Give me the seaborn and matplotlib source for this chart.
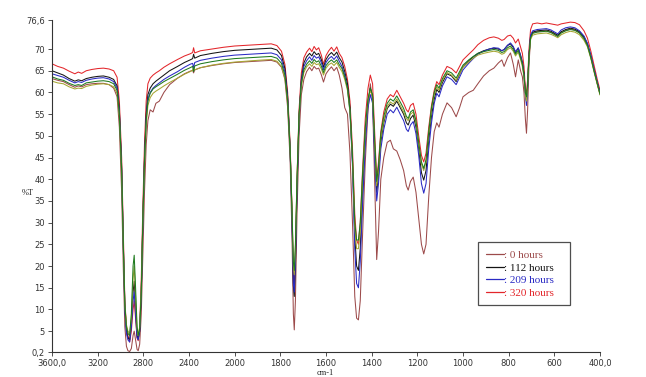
import numpy as np
import pandas as pd
import matplotlib
matplotlib.use("Agg")
import matplotlib.pyplot as plt
from matplotlib.lines import Line2D
import seaborn as sns

# FTIR spectra, wavenumber (cm-1) and %T
wavenumber = [
    3600, 3550, 3500, 3450, 3400, 3370, 3340, 3300, 3250, 3200,
    3150, 3100, 3060, 3030, 3010, 2990, 2975, 2962, 2948, 2935,
    2920, 2905, 2890, 2880, 2868, 2855, 2845, 2832, 2818, 2805,
    2790, 2775, 2760, 2740, 2715, 2690, 2660, 2620, 2570, 2500,
    2440, 2390, 2368, 2360, 2350, 2300, 2200, 2100, 2000, 1900,
    1840, 1815, 1795, 1780, 1768, 1757, 1749, 1743, 1739, 1734,
    1727, 1718, 1708, 1697, 1685, 1672, 1662, 1652, 1642, 1632,
    1620, 1611, 1600, 1588, 1576, 1565, 1553, 1542, 1530, 1518,
    1506, 1495, 1484, 1474, 1466, 1458, 1450, 1440, 1428, 1416,
    1406, 1396, 1386, 1378, 1370, 1360, 1347, 1332, 1318, 1305,
    1290, 1275, 1260, 1248, 1240, 1230, 1218, 1206, 1194, 1182,
    1172, 1162, 1150, 1138, 1126, 1115, 1105, 1090, 1070, 1050,
    1030, 1015, 1000, 975, 955, 935, 910, 885, 865, 845,
    830, 820, 805, 792, 780, 770, 758, 748, 740, 733,
    727, 722, 717, 711, 704, 695, 675, 655, 635, 615,
    595, 585, 570, 550, 530, 510, 490, 470, 455, 440,
    425, 412, 400,
]

t_320h = [
    66.6, 66.0, 65.6, 64.9, 64.3, 64.7, 64.4, 65.0, 65.3, 65.5,
    65.6, 65.4, 65.0, 63.5, 58.0, 45.0, 27.0, 12.0, 6.0, 4.0,
    2.5, 5.0, 10.0, 12.0, 8.0, 3.5, 2.8, 6.0, 17.0, 33.0,
    48.0, 58.0, 62.0, 63.3, 64.0, 64.5, 65.0, 65.8, 66.6, 67.6,
    68.4, 68.9, 69.2, 70.3, 69.1, 69.6, 70.0, 70.4, 70.7, 71.0,
    71.2, 70.8, 69.5, 66.5, 60.0, 48.0, 33.0, 18.0, 15.0, 22.0,
    40.0, 56.0, 64.5, 68.0, 69.3, 70.2, 69.4, 70.6, 69.8, 70.3,
    68.5, 66.5, 68.5, 69.6, 70.4, 69.5, 70.5, 69.0, 68.0, 66.0,
    63.0, 58.0, 47.0, 32.0, 26.0, 25.0, 30.0, 42.0, 54.0, 61.0,
    64.0, 62.0, 50.0, 40.0, 44.0, 51.0, 55.5, 58.5, 59.5, 59.0,
    60.5, 59.0, 57.5, 56.0, 55.5, 57.0, 57.5, 55.0, 50.0, 45.5,
    44.0, 46.0, 52.0, 57.0, 60.5, 62.5, 61.8, 64.0, 66.0, 65.5,
    64.5, 66.0, 67.5, 68.8, 69.8, 71.0, 72.0, 72.6, 72.8, 72.5,
    72.0, 72.2, 73.0, 73.2, 72.5, 71.4, 72.3, 70.5, 69.0, 66.0,
    61.0, 59.5, 63.0, 70.0, 74.5, 75.8, 76.0, 75.8, 76.0, 75.8,
    75.6, 75.5, 75.8, 76.0, 76.2, 76.1, 75.6, 74.2, 72.5, 69.5,
    66.0, 63.0, 60.5,
]

t_112h = [
    65.0, 64.5, 64.0, 63.2, 62.6, 62.9, 62.7, 63.2, 63.5, 63.7,
    63.8, 63.5, 63.0, 61.5, 56.0, 43.0, 25.0, 11.0, 5.0, 3.5,
    3.0, 7.0, 14.0, 16.5, 11.0, 4.0, 3.2, 5.0, 14.0, 30.0,
    45.0, 55.0, 59.5, 61.0, 62.0, 62.6, 63.2, 64.0, 65.0, 66.0,
    66.9, 67.5, 67.8, 68.8, 67.9, 68.5, 69.0, 69.4, 69.7, 70.0,
    70.2, 69.8, 68.5, 65.5, 59.0, 47.0, 32.0, 15.5, 13.0, 20.0,
    38.0, 54.5, 63.0, 66.8, 68.2, 69.0, 68.4, 69.4, 68.7, 69.0,
    67.5, 65.8, 67.6, 68.6, 69.2, 68.5, 69.3, 68.0, 67.0, 64.8,
    62.0, 56.5, 44.0, 27.0, 20.0, 19.0, 24.0, 37.0, 50.0, 58.0,
    61.0, 59.0, 46.0, 37.0, 41.0, 48.5, 53.0, 56.3, 57.3, 56.8,
    58.0, 56.5, 55.0, 53.0, 52.5, 54.0, 54.8, 52.0, 47.0, 41.5,
    39.8, 42.0, 49.0, 54.5, 58.5, 60.7, 60.0, 62.3, 64.3, 63.8,
    62.5, 64.2, 65.9, 67.3, 68.2, 69.0, 69.6, 70.0, 70.2, 70.0,
    69.6, 69.9, 70.8, 71.2, 70.4, 69.2, 70.2, 68.6, 67.0, 64.5,
    60.0, 58.0, 61.5, 68.5, 73.0, 73.9, 74.2, 74.3, 74.4, 74.1,
    73.5, 73.2, 74.0, 74.5, 74.8, 74.6, 74.0, 72.8, 71.2, 68.4,
    65.0, 62.2, 59.8,
]

t_209h = [
    64.3, 63.9, 63.5, 62.8, 62.2, 62.5, 62.3, 62.8, 63.1, 63.3,
    63.4, 63.1, 62.5, 61.0, 55.5, 42.0, 24.0, 10.0, 4.5, 3.0,
    2.5, 6.0, 12.0, 14.0, 9.0, 3.5, 3.0, 5.0, 14.0, 29.0,
    44.0, 54.0, 58.5, 60.0, 61.0, 61.6, 62.2, 63.0, 63.8, 64.8,
    65.8, 66.5, 66.7, 65.6, 66.9, 67.4, 67.9, 68.3, 68.6, 68.9,
    69.1, 68.7, 67.5, 64.7, 58.5, 46.5, 31.0, 16.0, 14.0, 21.0,
    38.0, 54.0, 62.5, 66.0, 67.3, 68.2, 67.4, 68.5, 67.9, 68.2,
    66.8, 65.2, 66.9, 67.8, 68.3, 67.6, 68.4, 67.2, 66.0, 64.0,
    61.0, 55.5, 43.0, 24.0, 16.0, 15.0, 21.0, 34.0, 48.0, 56.5,
    59.5, 57.5, 44.0, 35.0, 39.0, 47.0, 51.5, 55.0, 56.0, 55.3,
    56.6, 55.0, 53.5, 51.5, 51.0, 52.5, 53.3, 50.5, 45.5, 39.0,
    36.8, 39.0, 47.0, 53.0, 57.5, 59.8, 59.0, 61.5, 63.6, 63.0,
    61.8, 63.5, 65.2, 66.7, 67.8, 68.8, 69.5, 70.0, 70.3, 70.2,
    69.6, 69.9, 70.9, 71.4, 70.6, 69.4, 70.3, 68.5, 66.8, 64.0,
    59.5, 57.0, 61.0, 68.5, 73.2, 74.2, 74.5, 74.6, 74.7, 74.4,
    73.8, 73.5, 74.4, 74.9, 75.1, 74.9, 74.2, 73.0, 71.3, 68.5,
    65.1, 62.3, 60.0,
]

t_trace5 = [
    63.6, 63.1, 62.8, 62.1, 61.6, 61.8, 61.6, 62.2, 62.4, 62.6,
    62.7, 62.5, 62.0, 60.5, 55.0, 42.0, 24.5, 11.0, 6.0, 4.5,
    4.0, 9.0, 20.0, 22.5, 15.0, 6.0, 4.0, 5.5, 14.0, 30.0,
    44.0, 53.5, 58.0, 59.8, 60.8, 61.3, 61.8, 62.5, 63.2, 64.2,
    65.1, 65.7, 66.0, 64.8, 66.1, 66.6, 67.1, 67.5, 67.8, 68.1,
    68.3, 67.9, 66.7, 64.0, 58.0, 46.5, 33.0, 21.0, 19.0, 25.0,
    40.0, 55.0, 62.0, 65.2, 66.5, 67.3, 66.7, 67.6, 67.0, 67.3,
    66.0, 64.6, 66.2, 67.0, 67.5, 66.9, 67.5, 66.4, 65.5, 63.6,
    61.0, 56.0, 45.0, 30.0, 26.0, 26.0, 30.0, 41.0, 52.0, 58.5,
    61.0, 59.5, 48.0, 39.5, 43.0, 50.5, 54.5, 57.5, 58.5, 58.0,
    59.2, 57.8, 56.3, 54.5, 54.0, 55.5, 56.0, 53.5, 48.5, 44.0,
    42.5, 44.5, 51.0, 56.5, 60.0, 61.8, 61.0, 63.2, 65.0, 64.5,
    63.3, 64.8, 66.3, 67.5, 68.3, 69.0, 69.4, 69.7, 69.9, 69.7,
    69.2, 69.4, 70.3, 70.7, 69.9, 68.8, 69.7, 68.0, 66.5, 64.0,
    60.0, 59.0, 62.0, 68.5, 72.6, 73.6, 73.9, 74.0, 74.1, 73.8,
    73.2, 72.9, 73.7, 74.2, 74.5, 74.3, 73.7, 72.4, 70.8, 68.0,
    64.7, 62.0, 59.6,
]

t_trace6 = [
    62.6, 62.2, 62.0, 61.3, 60.8, 61.0, 60.9, 61.4, 61.7, 61.9,
    62.0, 61.8, 61.3, 59.8, 54.5, 41.0, 24.0, 11.0, 6.5, 5.0,
    4.5, 8.0, 17.0, 20.0, 13.0, 5.5, 4.0, 6.0, 15.0, 30.0,
    43.0, 52.5, 57.0, 58.8, 59.8, 60.3, 60.8, 61.5, 62.3, 63.3,
    64.2, 64.8, 65.1, 65.6, 65.2, 65.7, 66.3, 66.7, 67.0, 67.4,
    67.6, 67.2, 66.0, 63.3, 57.5, 46.5, 33.0, 20.0, 18.0, 24.0,
    40.0, 54.5, 61.5, 64.6, 65.9, 66.6, 66.0, 66.9, 66.4, 66.6,
    65.4, 64.0, 65.6, 66.4, 66.8, 66.2, 66.9, 65.8, 64.8, 63.0,
    60.5, 55.5, 44.5, 29.0, 24.0, 24.0, 28.0, 40.0, 51.0, 58.0,
    60.5, 59.0, 47.0, 38.5, 42.0, 49.5, 53.5, 56.8, 57.8, 57.3,
    58.5, 57.0, 55.5, 54.0, 53.5, 55.0, 55.5, 53.0, 48.0, 43.5,
    42.0, 44.0, 50.5, 56.0, 59.5, 61.3, 60.5, 62.8, 64.6, 64.0,
    62.8, 64.3, 65.8, 67.0, 67.9, 68.6, 69.0, 69.3, 69.5, 69.3,
    68.8, 69.0, 69.9, 70.3, 69.5, 68.4, 69.3, 67.6, 66.0, 63.5,
    59.5, 58.0, 61.5, 68.0, 72.2, 73.2, 73.5, 73.6, 73.7, 73.4,
    72.9, 72.6, 73.3, 73.8, 74.1, 73.9, 73.3, 72.0, 70.5, 67.8,
    64.5, 61.8, 59.4,
]

t_0h = [
    63.2, 62.8, 62.5, 61.8, 61.2, 61.5, 61.3, 61.8, 62.0, 62.1,
    62.1, 61.8, 61.0, 59.0, 52.0, 37.0, 19.0, 6.0, 1.5, 0.5,
    0.3, 1.0, 4.0, 5.0, 3.0, 0.8, 0.5, 2.0, 9.0, 22.0,
    37.0, 48.0, 53.5, 56.0, 55.5, 57.5, 58.0, 60.0, 61.8, 63.3,
    64.3, 64.9, 65.1, 64.5, 65.2, 65.7, 66.2, 66.6, 66.9, 67.2,
    67.4, 67.0, 65.8, 63.0, 56.5, 44.0, 27.0, 9.0, 5.3, 12.0,
    32.0, 50.0, 59.5, 63.0, 64.8, 65.8, 65.0, 66.0, 65.4, 65.6,
    64.0, 62.4, 64.3, 65.2, 65.9, 65.0, 65.8, 64.0, 61.0, 56.5,
    55.0, 46.0, 30.0, 13.0, 8.0, 7.6, 12.0, 27.0, 44.0, 56.0,
    62.0, 58.0, 38.0, 21.5, 28.0, 40.0, 45.0, 48.5, 49.0, 47.0,
    46.5, 44.5, 42.0, 38.5, 37.5, 39.5, 40.5, 37.0, 31.0, 25.0,
    22.8, 25.0, 36.0, 45.0, 51.0, 53.0, 52.0, 55.0, 57.6, 56.5,
    54.4, 56.5, 59.0, 60.0, 60.5, 62.0, 63.8, 65.0, 65.6, 66.8,
    67.5, 66.0, 68.0, 69.1, 66.5, 63.6, 67.5, 65.0, 63.6, 60.0,
    54.0, 50.6, 56.0, 66.5, 72.5, 73.8, 74.0, 74.1, 74.2, 73.9,
    73.3, 73.0, 73.8, 74.3, 74.6, 74.4, 73.8, 72.5, 70.9, 68.1,
    64.8, 62.0, 59.6,
]

series = {
    "0 hours": t_0h,
    "320 hours": t_320h,
    "112 hours": t_112h,
    "209 hours": t_209h,
    "trace 6": t_trace6,
    "trace 5": t_trace5,
}
colors = {
    "0 hours": "#9c4a4a",
    "320 hours": "#e3262b",
    "112 hours": "#141414",
    "209 hours": "#2a2ac4",
    "trace 6": "#a6a632",
    "trace 5": "#1f7a1f",
}
legend_order = ["0 hours", "112 hours", "209 hours", "320 hours"]

x_ticks = [3600, 3200, 2800, 2400, 2000, 1800, 1600, 1400, 1200, 1000, 800, 600, 400]
x_labels = ["3600,0", "3200", "2800", "2400", "2000", "1800", "1600",
            "1400", "1200", "1000", "800", "600", "400,0"]
y_ticks = [0.2, 5, 10, 15, 20, 25, 30, 35, 40, 45, 50, 55, 60, 65, 70, 76.6]
y_labels = ["0,2", "5", "10", "15", "20", "25", "30", "35", "40", "45",
            "50", "55", "60", "65", "70", "76,6"]


def fwd(x):
    # the instrument halves the scale above 2000 cm-1
    x = np.asarray(x, dtype=float)
    return np.where(x > 2000, 2000 + (x - 2000) / 2, x)


def inv(u):
    u = np.asarray(u, dtype=float)
    return np.where(u > 2000, 2000 + (u - 2000) * 2, u)


frames = []
for name, vals in series.items():
    frames.append(pd.DataFrame({"wn": wavenumber, "T": vals, "series": name}))
df = pd.concat(frames, ignore_index=True)

sns.set_style("ticks")
plt.rcParams["font.family"] = ["DejaVu Sans"]

fig = plt.figure(figsize=(6.46, 3.77), dpi=100)
ax = fig.add_axes([0.0805, 0.0663, 0.8483, 0.8796])

sns.lineplot(data=df, x="wn", y="T", hue="series", hue_order=list(series.keys()),
             palette=colors, estimator=None, sort=False, linewidth=0.75,
             legend=False, ax=ax)

ax.set_xscale("function", functions=(fwd, inv))
ax.set_xlim(3600, 400)
ax.set_ylim(0.2, 76.6)
ax.set_xticks(x_ticks)
ax.set_xticklabels(x_labels)
ax.set_yticks(y_ticks)
ax.set_yticklabels(y_labels)
ax.minorticks_off()
ax.tick_params(axis="both", labelsize=6, colors="#333333", length=3, width=0.6, pad=2)
ax.set_xlabel("")
ax.set_ylabel("")
sns.despine(ax=ax)
for s in ["left", "bottom"]:
    ax.spines[s].set_color("#333333")
    ax.spines[s].set_linewidth(0.8)

fig.text(0.043, 0.488, "%T", fontsize=6, family="Liberation Serif", color="#222222",
         ha="center", va="center")
fig.text(0.503, 0.011, "cm-1", fontsize=6, family="Liberation Serif", color="#222222",
         ha="center", va="center")

handles = [Line2D([0], [0], color=colors[n], lw=0.9) for n in legend_order]
labels = [": " + n for n in legend_order]
leg = ax.legend(handles, labels, loc="upper left", bbox_to_anchor=(0.768, 0.142, 0.188, 0.205),
                mode="expand", frameon=True, fancybox=False, edgecolor="#222222",
                handlelength=1.6, handletextpad=0.0, labelspacing=0.25, borderpad=0.7,
                prop={"family": "Liberation Serif", "size": 8},
                labelcolor=[colors[n] for n in legend_order])
leg.get_frame().set_linewidth(0.9)

fig.savefig("out.png", dpi=100)
